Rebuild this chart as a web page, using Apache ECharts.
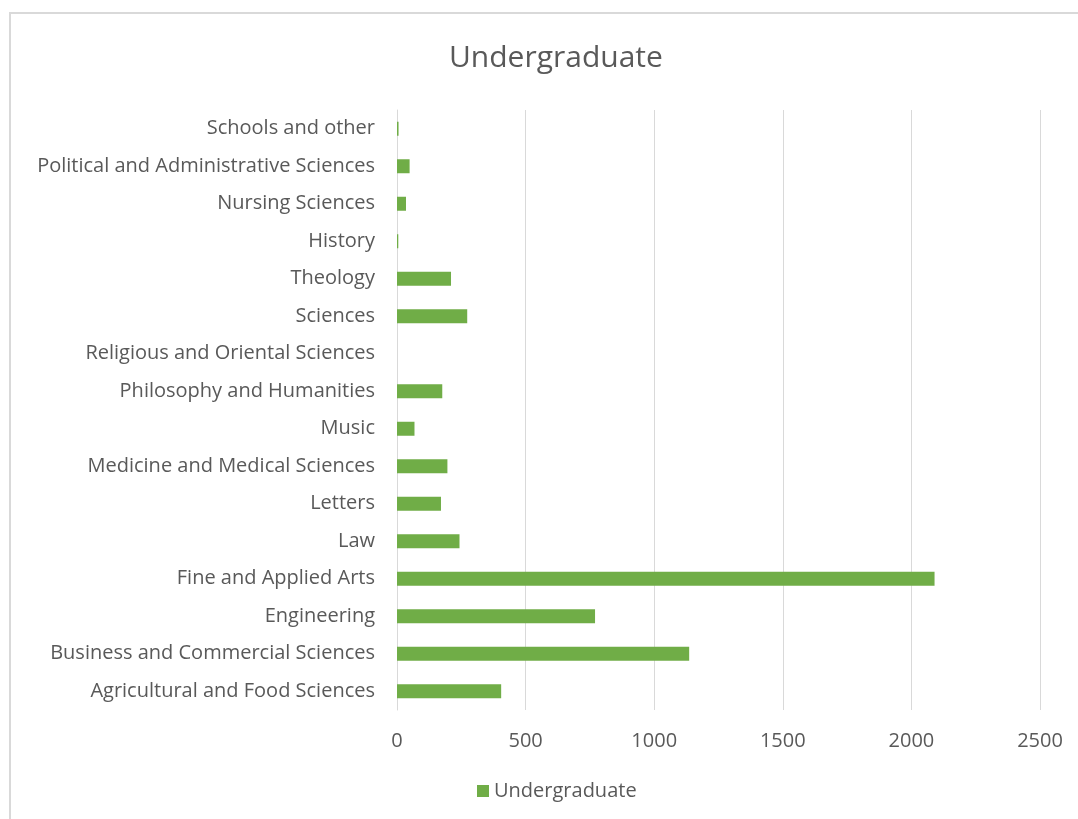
<!DOCTYPE html>
<html>
<head>
<meta charset="utf-8">
<script src="https://cdn.jsdelivr.net/npm/echarts@6/dist/echarts.min.js"></script>
<style>
html,body{margin:0;padding:0;background:#fff;}
#chart{width:1078px;height:819px;}
</style>
</head>
<body>
<div id="chart"></div>
<script>
const categories = [
  "Agricultural and Food Sciences",
  "Business and Commercial Sciences",
  "Engineering",
  "Fine and Applied Arts",
  "Law",
  "Letters",
  "Medicine and Medical Sciences",
  "Music",
  "Philosophy and Humanities",
  "Religious and Oriental Sciences",
  "Sciences",
  "Theology",
  "History",
  "Nursing Sciences",
  "Political and Administrative Sciences",
  "Schools and other"
];
const undergraduate = [405, 1136, 770, 2090, 243, 171, 196, 68, 176, 0, 273, 210, 5, 35, 49, 6];
const seriesName = "Undergraduate";
const titleText = "Undergraduate";

const FONT = "Open Sans";
const chart = echarts.init(document.getElementById('chart'), null, {renderer: 'canvas'});
chart.setOption({
  backgroundColor: '#ffffff',
  animation: false,
  title: {
    text: titleText,
    left: 444,
    top: 38,
    textStyle: {fontFamily: FONT, fontSize: 30, fontWeight: 'normal', color: '#595959'}
  },
  legend: {
    bottom: 13,
    left: 472,
    itemWidth: 12,
    itemHeight: 12,
    itemGap: 6,
    icon: 'rect',
    textStyle: {fontFamily: FONT, fontSize: 20, color: '#595959', padding: [0,0,0,0]},
    data: [seriesName]
  },
  grid: {left: 397, right: 38, top: 110, bottom: 109, containLabel: false},
  xAxis: {
    type: 'value',
    min: 0,
    max: 2500,
    interval: 500,
    axisLine: {show: false},
    axisTick: {show: false},
    splitLine: {lineStyle: {color: '#d9d9d9', width: 1}},
    axisLabel: {fontFamily: FONT, fontSize: 20, color: '#595959', margin: 21, formatter: function (v) { return String(v); }}
  },
  yAxis: {
    type: 'category',
    data: categories,
    axisLine: {lineStyle: {color: '#d9d9d9', width: 1}},
    axisTick: {show: false},
    axisLabel: {fontFamily: FONT, fontSize: 20, color: '#595959', margin: 22}
  },
  series: [{
    name: seriesName,
    type: 'bar',
    data: undergraduate,
    barWidth: 14,
    itemStyle: {color: '#70ad47'}
  }],
  graphic: [{
    type: 'rect',
    shape: {x: 10, y: 13, width: 1100, height: 900},
    style: {fill: 'none', stroke: '#d9d9d9', lineWidth: 2},
    silent: true
  }]
});
</script>
</body>
</html>
